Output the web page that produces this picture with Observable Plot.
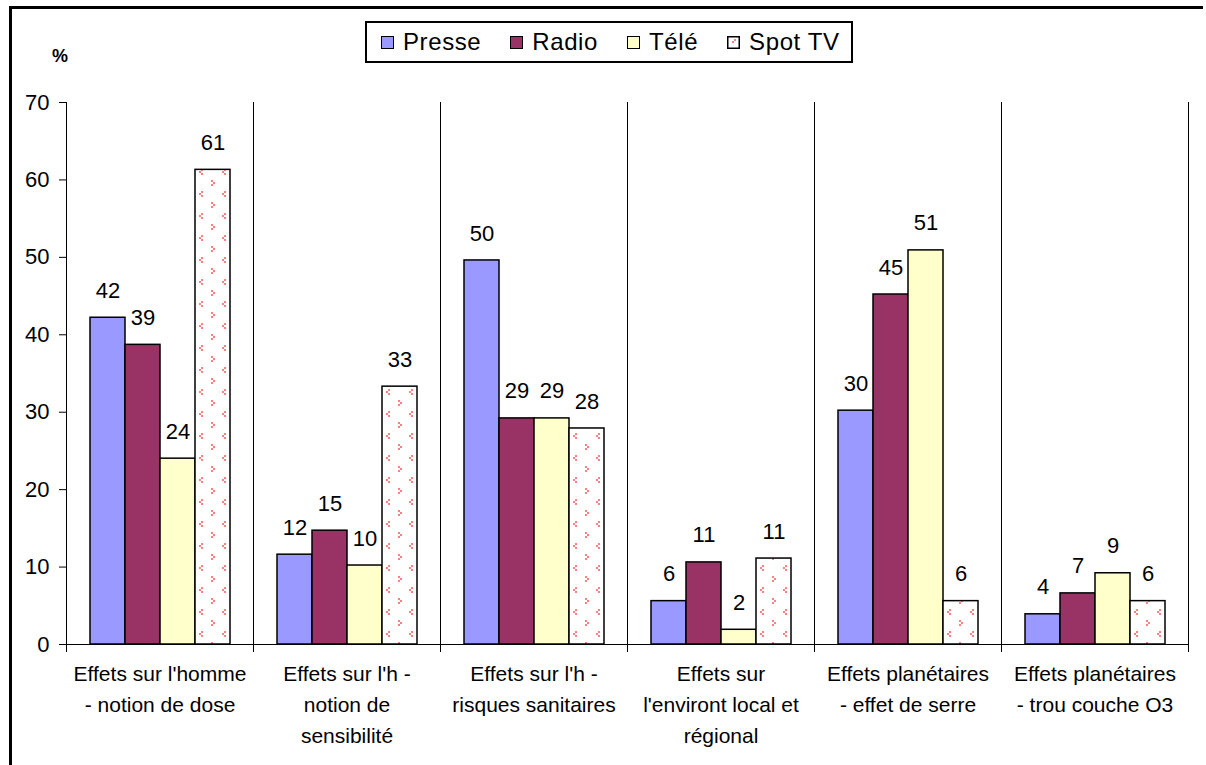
<!DOCTYPE html>
<html>
<head>
<meta charset="utf-8">
<script src="https://cdn.jsdelivr.net/npm/d3@7"></script>
<script src="https://cdn.jsdelivr.net/npm/@observablehq/plot@0.6"></script>
<style>
  html, body { margin: 0; padding: 0; background: #fff; }
  #wrap { position: relative; width: 1206px; height: 765px; overflow: hidden; font-family: "Liberation Sans", Arial, sans-serif; }
  #borderL { position: absolute; left: 9px; top: 6px; width: 3px; height: 770px; background: #000; }
  #borderT { position: absolute; left: 9px; top: 6px; width: 1194px; height: 3px; background: #000; }
  #legend { position: absolute; left: 365px; top: 21px; width: 488px; height: 42px; box-sizing: border-box;
            border: 2px solid #000; display: flex; align-items: center; padding-left: 14px; gap: 29px;
            font-size: 24px; letter-spacing: 0.6px; color: #000; }
  .item { display: flex; align-items: center; gap: 9px; white-space: nowrap; }
  .sw { width: 13px; height: 13px; box-sizing: border-box; border: 1.5px solid #000; display: inline-block; }
  #pct { position: absolute; left: 52px; top: 46px; font-size: 18px; font-weight: bold; }
  #chart { position: absolute; left: 0; top: 0; }
</style>
</head>
<body>
<div id="wrap">
  <div id="chart"></div>
  <div id="borderL"></div>
  <div id="borderT"></div>
  <div id="legend"></div>
  <div id="pct">%</div>
</div>
<script>
const categories = [
  "Effets sur l'homme\n- notion de dose",
  "Effets sur l'h -\nnotion de\nsensibilité",
  "Effets sur l'h -\nrisques sanitaires",
  "Effets sur\nl'environt local et\nrégional",
  "Effets planétaires\n- effet de serre",
  "Effets planétaires\n- trou couche O3"
];
const series = ["Presse", "Radio", "Télé", "Spot TV"];
const presse = [42.2, 11.6, 49.6, 5.6, 30.2, 3.9];
const radio  = [38.7, 14.7, 29.2, 10.6, 45.2, 6.6];
const tele   = [24.0, 10.2, 29.2, 1.9, 50.9, 9.2];
const spotTV = [61.3, 33.3, 27.9, 11.1, 5.6, 5.6];
const seriesFills = ["#9999FF", "#993366", "#FFFFCC", "url(#spotPattern)"];
const yTicks = [0, 10, 20, 30, 40, 50, 60, 70];

const valuesBySeries = [presse, radio, tele, spotTV];
const data = [];
categories.forEach((c, i) => {
  series.forEach((s, j) => {
    data.push({category: c, series: s, value: valuesBySeries[j][i], fill: seriesFills[j]});
  });
});

const chart = Plot.plot({
  width: 1206,
  height: 765,
  marginLeft: 65,
  marginRight: 17,
  marginTop: 102,
  marginBottom: 121,
  style: {fontFamily: "'Liberation Sans', Arial, sans-serif", fontSize: "20px", color: "#000", background: "transparent"},
  fx: {domain: categories, padding: 0, label: null},
  x: {domain: series, paddingInner: 0, paddingOuter: 0.67, axis: null},
  y: {domain: [0, 70], label: null},
  color: {type: "identity"},
  marks: [
    Plot.frame({anchor: "left", stroke: "#000", insetBottom: -7}),
    Plot.frame({anchor: "right", stroke: "#000", insetBottom: -7}),
    Plot.ruleY([0], {stroke: "#000"}),
    Plot.barY(data, {fx: "category", x: "series", y: "value", fill: "fill", stroke: "#000", strokeWidth: 1.5}),
    Plot.text(data, {fx: "category", x: "series", y: "value", text: d => String(Math.round(d.value)),
                     dy: -27, fontSize: 22, fill: "#000"}),
    Plot.axisY({ticks: yTicks, tickSize: 7, tickPadding: 10, fontSize: 22, label: null}),
    Plot.axisFx({anchor: "bottom", tickSize: 0, tickPadding: 14, fontSize: 21, lineHeight: 1.48, label: null})
  ]
});

d3.select(chart).insert("defs", ":first-child").html(`
  <pattern id="spotPattern" patternUnits="userSpaceOnUse" width="23" height="22">
    <rect width="23" height="22" fill="#fff"/>
    <g fill="#FF8080">
      <rect x="3" y="4" width="2" height="2"/><rect x="5" y="6" width="2" height="2"/><rect x="3" y="8" width="2" height="2"/>
      <rect x="16" y="15" width="2" height="2"/><rect x="14" y="17" width="2" height="2"/><rect x="16" y="19" width="2" height="2"/>
    </g>
  </pattern>`);

document.getElementById("chart").appendChild(chart);

const legend = document.getElementById("legend");
series.forEach((s, j) => {
  const item = document.createElement("div");
  item.className = "item";
  let sw;
  if (j === 3) {
    sw = `<svg width="13" height="13" style="display:block"><rect x="0.75" y="0.75" width="11.5" height="11.5" fill="#fff" stroke="#000" stroke-width="1.5"/><rect x="7" y="3" width="2" height="2" fill="#FF8080"/><rect x="5" y="5" width="2" height="2" fill="#FF8080"/></svg>`;
  } else {
    sw = `<span class="sw" style="background:${seriesFills[j]}"></span>`;
  }
  item.innerHTML = sw + `<span>${s}</span>`;
  legend.appendChild(item);
});
</script>
</body>
</html>
